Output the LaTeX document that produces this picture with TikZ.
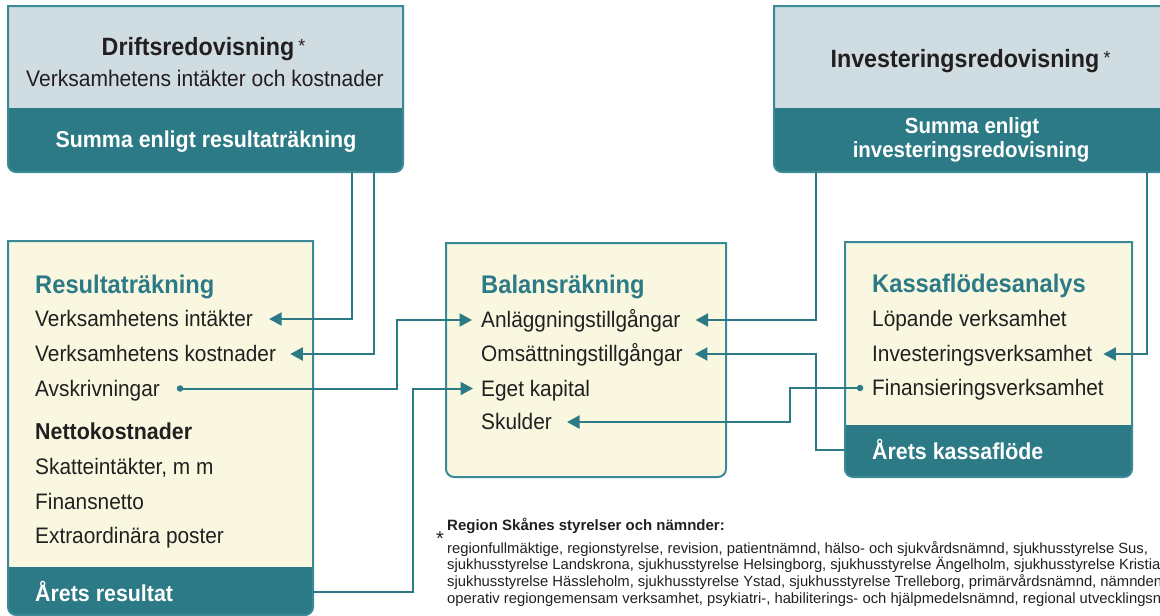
\documentclass[tikz,border=0pt]{standalone}
\usepackage{fontspec}
\setmainfont{Liberation Sans}[FakeStretch=0.93]
\newfontfamily\fnfont{Liberation Sans}
\usetikzlibrary{arrows.meta,calc}
\definecolor{teal1}{HTML}{2D7A87}
\definecolor{tealline}{HTML}{3A8996}
\definecolor{lightblue}{HTML}{CFDCE2}
\definecolor{cream}{HTML}{FAF7E1}
\definecolor{ink}{HTML}{231F20}
\newcommand\brpath[4]{(#1,#2) -- (#1,#4-8) arc[start angle=180,end angle=90,radius=8] -- (#3-8,#4) arc[start angle=90,end angle=0,radius=8] -- (#3,#2) -- cycle}
\newcommand\refstar{\raisebox{2.4pt}{\fontsize{19}{19}\selectfont\mdseries *}}
\tikzset{
  item/.style={anchor=west, inner sep=0pt, text height=15.8pt, text depth=0pt, text=ink, font=\fontsize{22.4}{26}\selectfont},
  ttl/.style={anchor=base west, inner sep=0pt, text=teal1, font=\fontsize{25.5}{30}\selectfont\bfseries},
  bandtxt/.style={anchor=base west, inner sep=0pt, text=white, font=\fontsize{23}{27}\selectfont\bfseries},
  boxline/.style={draw=tealline, line width=2pt},
  conn/.style={draw=teal1, line width=2pt},
  arr/.style={conn, -{Triangle[length=12.5pt,width=13pt]}},
  dotnode/.style={circle, fill=teal1, inner sep=0pt, minimum size=6.5pt},
  fnline/.style={anchor=base west, inner sep=0pt, text=ink, font=\fnfont\fontsize{14.8}{16.8}\selectfont},
}
\begin{document}
\begin{tikzpicture}[x=1pt,y=-1pt]
\useasboundingbox (0,0) rectangle (1160,616);
\clip (0,0) rectangle (1160,616);

% ---------- Driftsredovisning box
\fill[lightblue] (8,6) rectangle (403,108);
\fill[teal1] \brpath{8}{108}{403}{172};
\draw[boxline] \brpath{8}{6}{403}{172};
\node[anchor=base, inner sep=0pt, text=ink, font=\fontsize{25}{30}\selectfont\bfseries] (drt) at (203.5,55) {Driftsredovisning\,\refstar};
\node[anchor=base, inner sep=0pt, text=ink, font=\fontsize{22.6}{26}\selectfont] (drsub) at (205,86) {Verksamhetens intäkter och kostnader};
\node[bandtxt, anchor=base] (drsum) at (206,147) {Summa enligt resultaträkning};

% ---------- Investeringsredovisning box
\fill[lightblue] (774,6) rectangle (1175,108);
\fill[teal1] (774,108) -- (774,164) arc[start angle=180,end angle=90,radius=8] -- (1175,172) -- (1175,108) -- cycle;
\draw[boxline] (1175,6) -- (774,6) -- (774,164) arc[start angle=180,end angle=90,radius=8] -- (1175,172);
\node[anchor=base, inner sep=0pt, text=ink, font=\fontsize{25}{30}\selectfont\bfseries] (ivt) at (970.5,67) {Investeringsredovisning\,\refstar};
\node[bandtxt, anchor=base, font=\fontsize{22}{26}\selectfont\bfseries] (ivs1) at (972,133) {Summa enligt};
\node[bandtxt, anchor=base, font=\fontsize{22}{26}\selectfont\bfseries] (ivs2) at (971,157) {investeringsredovisning};

% ---------- Resultaträkning box
\fill[cream] \brpath{8}{241}{313}{615};
\fill[teal1] \brpath{8}{567}{313}{615};
\draw[boxline] \brpath{8}{241}{313}{615};
\node[ttl] (rt) at (35,293) {Resultaträkning};
\node[item] (vi) at (35,319) {Verksamhetens intäkter};
\node[item] (vk) at (35,354) {Verksamhetens kostnader};
\node[item] (av) at (35,388.5) {Avskrivningar};
\node[item, font=\fontsize{23}{27}\selectfont\bfseries, text height=16.5pt] (nk) at (35,431) {Nettokostnader};
\node[item] (sk1) at (35,467) {Skatteintäkter, m m};
\node[item] (fn) at (35,501.5) {Finansnetto};
\node[item] (ex) at (35,536) {Extraordinära poster};
\node[bandtxt] (ar) at (35,601) {Årets resultat};

% ---------- Balansräkning box
\fill[cream] \brpath{446}{243}{726}{477};
\draw[boxline] \brpath{446}{243}{726}{477};
\node[ttl] (br) at (481,293) {Balansräkning};
\node[item] (an) at (481,320) {Anläggningstillgångar};
\node[item] (om) at (481,354) {Omsättningstillgångar};
\node[item] (ek) at (481,388.5) {Eget kapital};
\node[item] (sk) at (481,422) {Skulder};

% ---------- Kassaflödesanalys box
\fill[cream] \brpath{845}{242}{1132}{477};
\fill[teal1] \brpath{845}{425}{1132}{477};
\draw[boxline] \brpath{845}{242}{1132}{477};
\node[ttl] (kf) at (872,292) {Kassaflödesanalys};
\node[item] (lv) at (872,319) {Löpande verksamhet};
\node[item] (iv) at (872,354) {Investeringsverksamhet};
\node[item] (fv) at (872,388) {Finansieringsverksamhet};
\node[bandtxt] (akf) at (872,459) {Årets kassaflöde};

% ---------- connector anchors
\coordinate (d1) at (352,172);
\coordinate (d2) at (374,172);
\coordinate (i1) at (816,172);
\coordinate (i2) at (1147,172);
\coordinate (j1) at (397,0);
\coordinate (j2) at (413,0);
\coordinate (j3) at (816,0);
\coordinate (j4) at (790,0);
\coordinate (arout) at (313,592);
\coordinate (kfout) at (845,450);
\coordinate (avdot) at ([xshift=20pt]av.east);
\coordinate (fvdot) at ([xshift=-12pt]fv.west);

% ---------- connectors
\draw[arr] (d1) |- ([xshift=16pt]vi.east);
\draw[arr] (d2) |- ([xshift=14pt]vk.east);
\draw[arr] (avdot) -| (j1 |- an.west) -- ([xshift=-9pt]an.west);
\draw[arr] (arout) -| (j2 |- ek.west) -- ([xshift=-8pt]ek.west);
\draw[arr] (i1) |- ([xshift=15pt]an.east);
\draw[arr] (kfout) -| (j3 |- om.east) -- ([xshift=12pt]om.east);
\draw[arr] (fvdot) -| (j4 |- sk.east) -- ([xshift=15pt]sk.east);
\draw[arr] (i2) |- ([xshift=11pt]iv.east);
\node[dotnode] (avdotn) at (avdot) {};
\node[dotnode] (fvdotn) at (fvdot) {};

% ---------- footnote
\node[anchor=base, inner sep=0pt, text=ink, font=\fnfont\fontsize{20}{20}\selectfont] (fnstar) at (440,545) {*};
\node[fnline, font=\fnfont\fontsize{15}{17}\selectfont\bfseries] (fnh) at (447,530) {Region Skånes styrelser och nämnder:};
\node[fnline] (fn1) at (447,553) {regionfullmäktige, regionstyrelse, revision, patientnämnd, hälso- och sjukvårdsnämnd, sjukhusstyrelse Sus,};
\node[fnline] (fn2) at (447,569.7) {sjukhusstyrelse Landskrona, sjukhusstyrelse Helsingborg, sjukhusstyrelse Ängelholm, sjukhusstyrelse Kristianstad,};
\node[fnline] (fn3) at (447,586.3) {sjukhusstyrelse Hässleholm, sjukhusstyrelse Ystad, sjukhusstyrelse Trelleborg, primärvårdsnämnd, nämnden för};
\node[fnline] (fn4) at (447,603) {operativ regiongemensam verksamhet, psykiatri-, habiliterings- och hjälpmedelsnämnd, regional utvecklingsnämnd,};
\end{tikzpicture}
\end{document}
